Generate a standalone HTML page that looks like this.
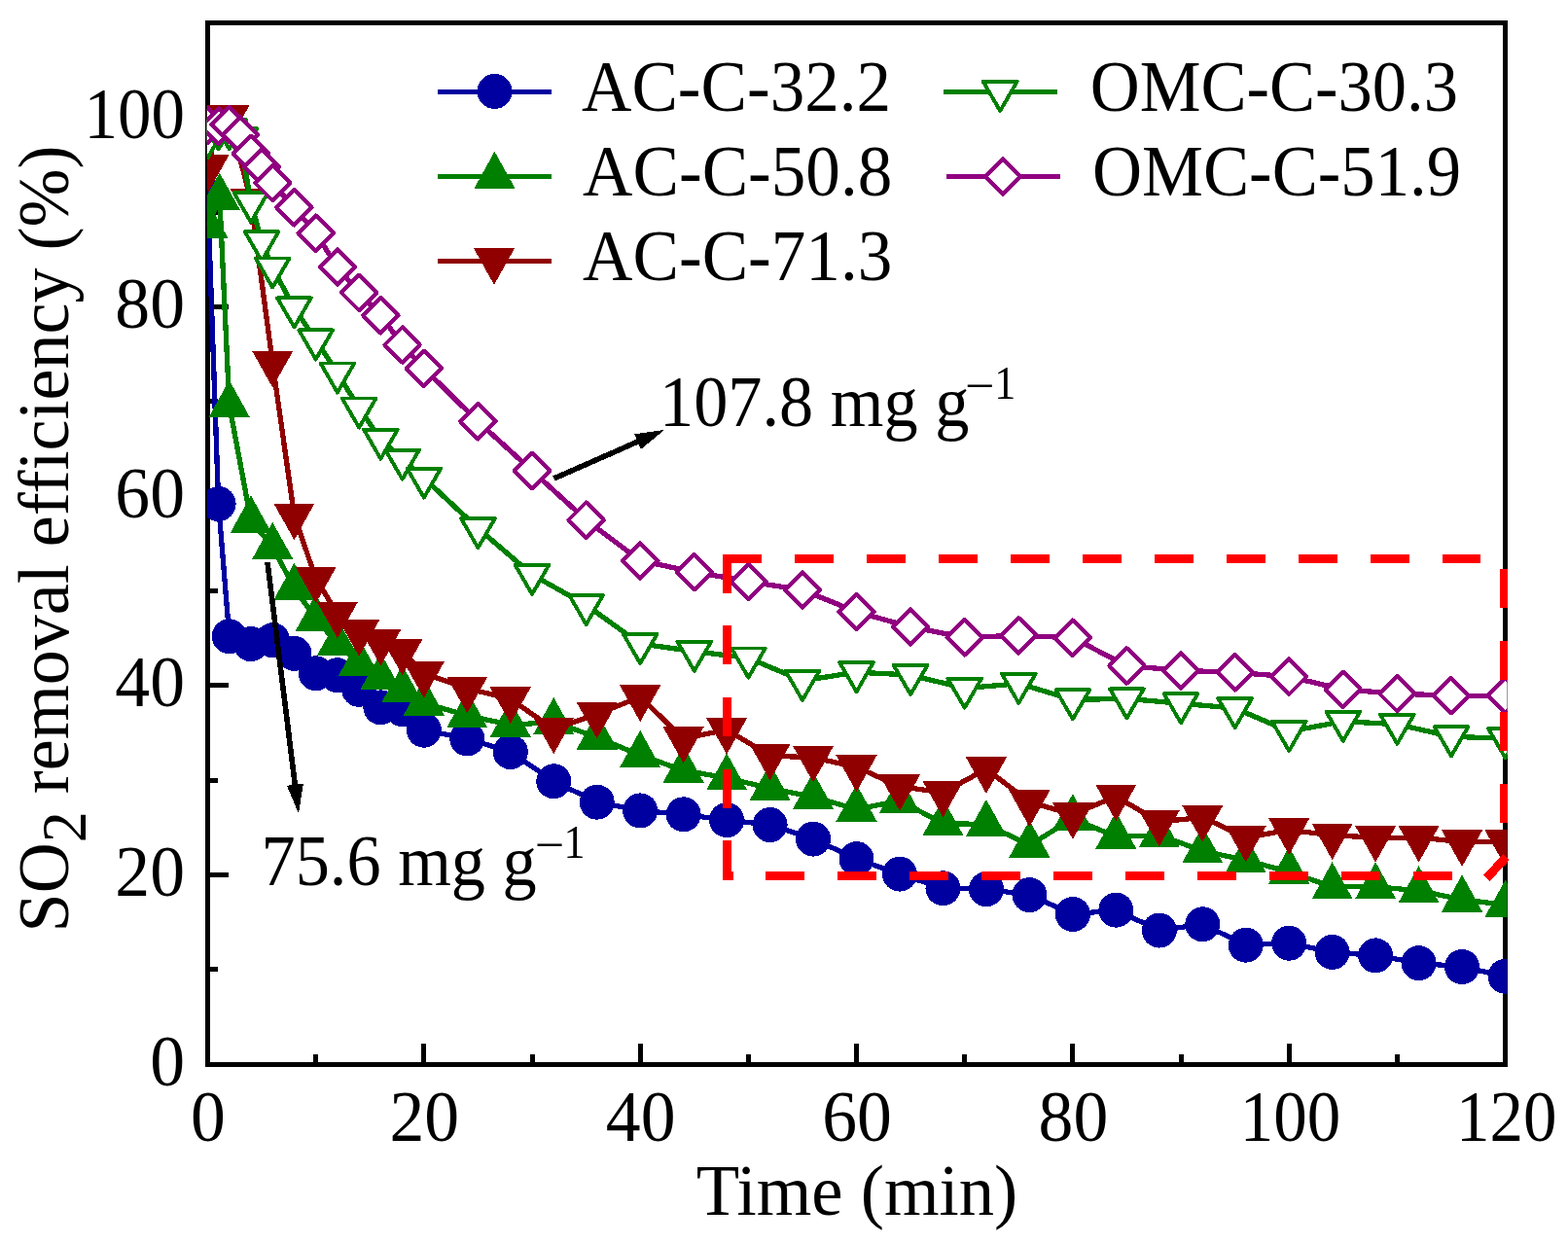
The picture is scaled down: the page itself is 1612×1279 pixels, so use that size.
<!DOCTYPE html>
<html><head><meta charset="utf-8"><title>SO2 removal efficiency</title>
<style>html,body{margin:0;padding:0;background:#fff;overflow:hidden}svg{display:block}text{font-family:"Liberation Serif",serif;fill:#000}</style></head>
<body>
<svg width="1612" height="1279" viewBox="0 0 1612 1279" shape-rendering="crispEdges">
<rect width="1612" height="1279" fill="#fff"/>
<defs><clipPath id="cp"><rect x="212.8" y="21" width="1336.8" height="1075.6"/></clipPath></defs>
<rect x="213.5" y="23.6" width="1334.0" height="1070.7" fill="none" stroke="#000" stroke-width="5"/>
<g stroke="#000" stroke-width="5"><line x1="324.67" y1="1094.3" x2="324.67" y2="1083.8"/><line x1="435.84" y1="1094.3" x2="435.84" y2="1073.3"/><line x1="547.01" y1="1094.3" x2="547.01" y2="1083.8"/><line x1="658.18" y1="1094.3" x2="658.18" y2="1073.3"/><line x1="769.35" y1="1094.3" x2="769.35" y2="1083.8"/><line x1="880.52" y1="1094.3" x2="880.52" y2="1073.3"/><line x1="991.69" y1="1094.3" x2="991.69" y2="1083.8"/><line x1="1102.86" y1="1094.3" x2="1102.86" y2="1073.3"/><line x1="1214.03" y1="1094.3" x2="1214.03" y2="1083.8"/><line x1="1325.20" y1="1094.3" x2="1325.20" y2="1073.3"/><line x1="1436.37" y1="1094.3" x2="1436.37" y2="1083.8"/><line x1="213.5" y1="996.96" x2="224.0" y2="996.96"/><line x1="213.5" y1="899.62" x2="234.5" y2="899.62"/><line x1="213.5" y1="802.28" x2="224.0" y2="802.28"/><line x1="213.5" y1="704.94" x2="234.5" y2="704.94"/><line x1="213.5" y1="607.60" x2="224.0" y2="607.60"/><line x1="213.5" y1="510.26" x2="234.5" y2="510.26"/><line x1="213.5" y1="412.92" x2="224.0" y2="412.92"/><line x1="213.5" y1="315.58" x2="234.5" y2="315.58"/><line x1="213.5" y1="218.24" x2="224.0" y2="218.24"/><line x1="213.5" y1="120.90" x2="234.5" y2="120.90"/></g>
<text transform="translate(214.0,1172.5) scale(0.966,1)" font-size="74.2" text-anchor="middle">0</text>
<text transform="translate(436.3,1172.5) scale(0.966,1)" font-size="74.2" text-anchor="middle">20</text>
<text transform="translate(658.7,1172.5) scale(0.966,1)" font-size="74.2" text-anchor="middle">40</text>
<text transform="translate(881.0,1172.5) scale(0.966,1)" font-size="74.2" text-anchor="middle">60</text>
<text transform="translate(1103.4,1172.5) scale(0.966,1)" font-size="74.2" text-anchor="middle">80</text>
<text transform="translate(1326.4,1172.5) scale(0.93,1)" font-size="74.2" text-anchor="middle">100</text>
<text transform="translate(1548.7,1172.5) scale(0.93,1)" font-size="74.2" text-anchor="middle">120</text>
<text transform="translate(190,1115.8) scale(0.966,1)" font-size="74.2" text-anchor="end">0</text>
<text transform="translate(190,921.1) scale(0.966,1)" font-size="74.2" text-anchor="end">20</text>
<text transform="translate(190,726.4) scale(0.966,1)" font-size="74.2" text-anchor="end">40</text>
<text transform="translate(190,531.8) scale(0.966,1)" font-size="74.2" text-anchor="end">60</text>
<text transform="translate(190,337.1) scale(0.966,1)" font-size="74.2" text-anchor="end">80</text>
<text transform="translate(190,142.4) scale(0.93,1)" font-size="74.2" text-anchor="end">100</text>
<text transform="translate(881,1249.2) scale(0.98,1)" font-size="74.2" text-anchor="middle">Time (min)</text>
<text transform="translate(69.8,554) rotate(-90) scale(0.971,1)" font-size="74.2" text-anchor="middle">SO<tspan font-size="66" dy="18">2</tspan><tspan dy="-18"> removal efficiency (%)</tspan></text>
<g clip-path="url(#cp)" shape-rendering="crispEdges">
<polyline points="213.50,200.72 224.62,518.05 235.73,654.32 257.97,662.11 280.20,658.22 302.44,671.84 324.67,692.29 346.90,694.23 369.14,708.83 391.37,727.33 413.61,729.27 435.84,750.69 480.31,759.45 524.78,773.08 569.24,803.25 613.71,824.67 658.18,833.43 702.65,837.32 747.12,843.16 791.58,848.03 836.05,862.63 880.52,883.07 924.99,898.65 969.46,913.25 1013.92,914.22 1058.39,920.06 1102.86,940.02 1147.33,935.64 1191.80,956.56 1236.26,950.24 1280.73,971.65 1325.20,969.70 1369.67,978.95 1414.14,982.36 1458.60,990.15 1503.07,994.04 1547.54,1003.77" fill="none" stroke="#0000a0" stroke-width="5.3" stroke-linejoin="round"/>
<circle cx="213.50" cy="200.72" r="18" fill="#0000a0"/>
<circle cx="224.62" cy="518.05" r="18" fill="#0000a0"/>
<circle cx="235.73" cy="654.32" r="18" fill="#0000a0"/>
<circle cx="257.97" cy="662.11" r="18" fill="#0000a0"/>
<circle cx="280.20" cy="658.22" r="18" fill="#0000a0"/>
<circle cx="302.44" cy="671.84" r="18" fill="#0000a0"/>
<circle cx="324.67" cy="692.29" r="18" fill="#0000a0"/>
<circle cx="346.90" cy="694.23" r="18" fill="#0000a0"/>
<circle cx="369.14" cy="708.83" r="18" fill="#0000a0"/>
<circle cx="391.37" cy="727.33" r="18" fill="#0000a0"/>
<circle cx="413.61" cy="729.27" r="18" fill="#0000a0"/>
<circle cx="435.84" cy="750.69" r="18" fill="#0000a0"/>
<circle cx="480.31" cy="759.45" r="18" fill="#0000a0"/>
<circle cx="524.78" cy="773.08" r="18" fill="#0000a0"/>
<circle cx="569.24" cy="803.25" r="18" fill="#0000a0"/>
<circle cx="613.71" cy="824.67" r="18" fill="#0000a0"/>
<circle cx="658.18" cy="833.43" r="18" fill="#0000a0"/>
<circle cx="702.65" cy="837.32" r="18" fill="#0000a0"/>
<circle cx="747.12" cy="843.16" r="18" fill="#0000a0"/>
<circle cx="791.58" cy="848.03" r="18" fill="#0000a0"/>
<circle cx="836.05" cy="862.63" r="18" fill="#0000a0"/>
<circle cx="880.52" cy="883.07" r="18" fill="#0000a0"/>
<circle cx="924.99" cy="898.65" r="18" fill="#0000a0"/>
<circle cx="969.46" cy="913.25" r="18" fill="#0000a0"/>
<circle cx="1013.92" cy="914.22" r="18" fill="#0000a0"/>
<circle cx="1058.39" cy="920.06" r="18" fill="#0000a0"/>
<circle cx="1102.86" cy="940.02" r="18" fill="#0000a0"/>
<circle cx="1147.33" cy="935.64" r="18" fill="#0000a0"/>
<circle cx="1191.80" cy="956.56" r="18" fill="#0000a0"/>
<circle cx="1236.26" cy="950.24" r="18" fill="#0000a0"/>
<circle cx="1280.73" cy="971.65" r="18" fill="#0000a0"/>
<circle cx="1325.20" cy="969.70" r="18" fill="#0000a0"/>
<circle cx="1369.67" cy="978.95" r="18" fill="#0000a0"/>
<circle cx="1414.14" cy="982.36" r="18" fill="#0000a0"/>
<circle cx="1458.60" cy="990.15" r="18" fill="#0000a0"/>
<circle cx="1503.07" cy="994.04" r="18" fill="#0000a0"/>
<circle cx="1547.54" cy="1003.77" r="18" fill="#0000a0"/>
<polyline points="213.50,232.35 225.73,203.15 235.73,416.33 257.97,535.08 280.20,562.34 302.44,604.19 324.67,636.32 346.90,661.62 369.14,682.07 391.37,696.67 413.61,709.32 435.84,722.95 480.31,735.60 524.78,745.34 569.24,742.42 613.71,757.99 658.18,776.48 702.65,792.06 747.12,799.85 791.58,810.55 836.05,819.31 880.52,831.97 924.99,823.21 969.46,846.57 1013.92,847.54 1058.39,868.96 1102.86,841.70 1147.33,860.20 1191.80,858.74 1236.26,874.80 1280.73,884.53 1325.20,896.21 1369.67,911.79 1414.14,911.79 1458.60,915.68 1503.07,924.93 1547.54,930.28" fill="none" stroke="#008000" stroke-width="5.3" stroke-linejoin="round"/>
<polygon points="213.50,206.75 234.60,244.95 192.40,244.95" fill="#008000"/>
<polygon points="225.73,177.55 246.83,215.75 204.63,215.75" fill="#008000"/>
<polygon points="235.73,390.73 256.83,428.93 214.63,428.93" fill="#008000"/>
<polygon points="257.97,509.48 279.07,547.68 236.87,547.68" fill="#008000"/>
<polygon points="280.20,536.74 301.30,574.94 259.10,574.94" fill="#008000"/>
<polygon points="302.44,578.59 323.54,616.79 281.34,616.79" fill="#008000"/>
<polygon points="324.67,610.72 345.77,648.92 303.57,648.92" fill="#008000"/>
<polygon points="346.90,636.02 368.00,674.22 325.80,674.22" fill="#008000"/>
<polygon points="369.14,656.47 390.24,694.67 348.04,694.67" fill="#008000"/>
<polygon points="391.37,671.07 412.47,709.27 370.27,709.27" fill="#008000"/>
<polygon points="413.61,683.72 434.71,721.92 392.51,721.92" fill="#008000"/>
<polygon points="435.84,697.35 456.94,735.55 414.74,735.55" fill="#008000"/>
<polygon points="480.31,710.00 501.41,748.20 459.21,748.20" fill="#008000"/>
<polygon points="524.78,719.74 545.88,757.94 503.68,757.94" fill="#008000"/>
<polygon points="569.24,716.82 590.34,755.02 548.14,755.02" fill="#008000"/>
<polygon points="613.71,732.39 634.81,770.59 592.61,770.59" fill="#008000"/>
<polygon points="658.18,750.88 679.28,789.08 637.08,789.08" fill="#008000"/>
<polygon points="702.65,766.46 723.75,804.66 681.55,804.66" fill="#008000"/>
<polygon points="747.12,774.25 768.22,812.45 726.02,812.45" fill="#008000"/>
<polygon points="791.58,784.95 812.68,823.15 770.48,823.15" fill="#008000"/>
<polygon points="836.05,793.71 857.15,831.91 814.95,831.91" fill="#008000"/>
<polygon points="880.52,806.37 901.62,844.57 859.42,844.57" fill="#008000"/>
<polygon points="924.99,797.61 946.09,835.81 903.89,835.81" fill="#008000"/>
<polygon points="969.46,820.97 990.56,859.17 948.36,859.17" fill="#008000"/>
<polygon points="1013.92,821.94 1035.02,860.14 992.82,860.14" fill="#008000"/>
<polygon points="1058.39,843.36 1079.49,881.56 1037.29,881.56" fill="#008000"/>
<polygon points="1102.86,816.10 1123.96,854.30 1081.76,854.30" fill="#008000"/>
<polygon points="1147.33,834.60 1168.43,872.80 1126.23,872.80" fill="#008000"/>
<polygon points="1191.80,833.14 1212.90,871.34 1170.70,871.34" fill="#008000"/>
<polygon points="1236.26,849.20 1257.36,887.40 1215.16,887.40" fill="#008000"/>
<polygon points="1280.73,858.93 1301.83,897.13 1259.63,897.13" fill="#008000"/>
<polygon points="1325.20,870.61 1346.30,908.81 1304.10,908.81" fill="#008000"/>
<polygon points="1369.67,886.19 1390.77,924.39 1348.57,924.39" fill="#008000"/>
<polygon points="1414.14,886.19 1435.24,924.39 1393.04,924.39" fill="#008000"/>
<polygon points="1458.60,890.08 1479.70,928.28 1437.50,928.28" fill="#008000"/>
<polygon points="1503.07,899.33 1524.17,937.53 1481.97,937.53" fill="#008000"/>
<polygon points="1547.54,904.68 1568.64,942.88 1526.44,942.88" fill="#008000"/>
<polyline points="214.39,171.52 224.62,119.93 235.73,119.93 257.97,206.56 280.20,373.01 302.44,529.73 324.67,594.95 346.90,630.96 369.14,649.46 391.37,659.19 413.61,668.92 435.84,692.29 480.31,707.86 524.78,718.57 569.24,749.72 613.71,734.14 658.18,716.62 702.65,759.45 747.12,750.20 791.58,776.97 836.05,778.92 880.52,788.65 924.99,808.61 969.46,814.93 1013.92,790.60 1058.39,824.67 1102.86,837.32 1147.33,818.83 1191.80,845.11 1236.26,840.24 1280.73,861.17 1325.20,853.38 1369.67,858.74 1414.14,861.17 1458.60,861.17 1503.07,865.55 1547.54,865.55" fill="none" stroke="#900000" stroke-width="5.3" stroke-linejoin="round"/>
<polygon points="214.39,197.02 235.49,159.32 193.29,159.32" fill="#900000"/>
<polygon points="224.62,145.43 245.72,107.73 203.52,107.73" fill="#900000"/>
<polygon points="235.73,145.43 256.83,107.73 214.63,107.73" fill="#900000"/>
<polygon points="257.97,232.06 279.07,194.36 236.87,194.36" fill="#900000"/>
<polygon points="280.20,398.51 301.30,360.81 259.10,360.81" fill="#900000"/>
<polygon points="302.44,555.23 323.54,517.53 281.34,517.53" fill="#900000"/>
<polygon points="324.67,620.45 345.77,582.75 303.57,582.75" fill="#900000"/>
<polygon points="346.90,656.46 368.00,618.76 325.80,618.76" fill="#900000"/>
<polygon points="369.14,674.96 390.24,637.26 348.04,637.26" fill="#900000"/>
<polygon points="391.37,684.69 412.47,646.99 370.27,646.99" fill="#900000"/>
<polygon points="413.61,694.42 434.71,656.72 392.51,656.72" fill="#900000"/>
<polygon points="435.84,717.79 456.94,680.09 414.74,680.09" fill="#900000"/>
<polygon points="480.31,733.36 501.41,695.66 459.21,695.66" fill="#900000"/>
<polygon points="524.78,744.07 545.88,706.37 503.68,706.37" fill="#900000"/>
<polygon points="569.24,775.22 590.34,737.52 548.14,737.52" fill="#900000"/>
<polygon points="613.71,759.64 634.81,721.94 592.61,721.94" fill="#900000"/>
<polygon points="658.18,742.12 679.28,704.42 637.08,704.42" fill="#900000"/>
<polygon points="702.65,784.95 723.75,747.25 681.55,747.25" fill="#900000"/>
<polygon points="747.12,775.70 768.22,738.00 726.02,738.00" fill="#900000"/>
<polygon points="791.58,802.47 812.68,764.77 770.48,764.77" fill="#900000"/>
<polygon points="836.05,804.42 857.15,766.72 814.95,766.72" fill="#900000"/>
<polygon points="880.52,814.15 901.62,776.45 859.42,776.45" fill="#900000"/>
<polygon points="924.99,834.11 946.09,796.41 903.89,796.41" fill="#900000"/>
<polygon points="969.46,840.43 990.56,802.73 948.36,802.73" fill="#900000"/>
<polygon points="1013.92,816.10 1035.02,778.40 992.82,778.40" fill="#900000"/>
<polygon points="1058.39,850.17 1079.49,812.47 1037.29,812.47" fill="#900000"/>
<polygon points="1102.86,862.82 1123.96,825.12 1081.76,825.12" fill="#900000"/>
<polygon points="1147.33,844.33 1168.43,806.63 1126.23,806.63" fill="#900000"/>
<polygon points="1191.80,870.61 1212.90,832.91 1170.70,832.91" fill="#900000"/>
<polygon points="1236.26,865.74 1257.36,828.04 1215.16,828.04" fill="#900000"/>
<polygon points="1280.73,886.67 1301.83,848.97 1259.63,848.97" fill="#900000"/>
<polygon points="1325.20,878.88 1346.30,841.18 1304.10,841.18" fill="#900000"/>
<polygon points="1369.67,884.24 1390.77,846.54 1348.57,846.54" fill="#900000"/>
<polygon points="1414.14,886.67 1435.24,848.97 1393.04,848.97" fill="#900000"/>
<polygon points="1458.60,886.67 1479.70,848.97 1437.50,848.97" fill="#900000"/>
<polygon points="1503.07,891.05 1524.17,853.35 1481.97,853.35" fill="#900000"/>
<polygon points="1547.54,891.05 1568.64,853.35 1526.44,853.35" fill="#900000"/>
<polyline points="213.50,142.12 224.62,133.36 235.73,133.16 246.85,142.12 257.97,208.31 269.09,248.22 280.20,275.48 302.44,316.36 324.67,349.45 346.90,383.52 369.14,419.54 391.37,451.66 413.61,472.59 435.84,491.57 491.43,543.16 547.01,590.86 602.60,622.01 658.18,661.92 713.77,669.70 769.35,676.52 824.94,699.88 880.52,691.12 936.11,694.04 991.69,707.67 1047.28,702.80 1102.86,719.35 1158.45,718.37 1214.03,723.24 1269.62,728.11 1325.20,751.96 1380.79,741.73 1436.37,744.65 1491.96,757.31 1547.54,759.26" fill="none" stroke="#008000" stroke-width="5.3" stroke-linejoin="round"/>
<polygon points="213.50,162.17 230.86,132.10 196.14,132.10" fill="#fff" stroke="#008000" stroke-width="3.9" stroke-linejoin="round"/>
<polygon points="224.62,153.41 241.98,123.33 207.25,123.33" fill="#fff" stroke="#008000" stroke-width="3.9" stroke-linejoin="round"/>
<polygon points="235.73,153.21 253.10,123.14 218.37,123.14" fill="#fff" stroke="#008000" stroke-width="3.9" stroke-linejoin="round"/>
<polygon points="246.85,162.17 264.21,132.10 229.49,132.10" fill="#fff" stroke="#008000" stroke-width="3.9" stroke-linejoin="round"/>
<polygon points="257.97,228.36 275.33,198.29 240.60,198.29" fill="#fff" stroke="#008000" stroke-width="3.9" stroke-linejoin="round"/>
<polygon points="269.09,268.27 286.45,238.20 251.72,238.20" fill="#fff" stroke="#008000" stroke-width="3.9" stroke-linejoin="round"/>
<polygon points="280.20,295.53 297.57,265.45 262.84,265.45" fill="#fff" stroke="#008000" stroke-width="3.9" stroke-linejoin="round"/>
<polygon points="302.44,336.41 319.80,306.33 285.07,306.33" fill="#fff" stroke="#008000" stroke-width="3.9" stroke-linejoin="round"/>
<polygon points="324.67,369.50 342.03,339.43 307.31,339.43" fill="#fff" stroke="#008000" stroke-width="3.9" stroke-linejoin="round"/>
<polygon points="346.90,403.57 364.27,373.50 329.54,373.50" fill="#fff" stroke="#008000" stroke-width="3.9" stroke-linejoin="round"/>
<polygon points="369.14,439.59 386.50,409.51 351.77,409.51" fill="#fff" stroke="#008000" stroke-width="3.9" stroke-linejoin="round"/>
<polygon points="391.37,471.71 408.74,441.64 374.01,441.64" fill="#fff" stroke="#008000" stroke-width="3.9" stroke-linejoin="round"/>
<polygon points="413.61,492.64 430.97,462.56 396.24,462.56" fill="#fff" stroke="#008000" stroke-width="3.9" stroke-linejoin="round"/>
<polygon points="435.84,511.62 453.20,481.55 418.48,481.55" fill="#fff" stroke="#008000" stroke-width="3.9" stroke-linejoin="round"/>
<polygon points="491.43,563.21 508.79,533.14 474.06,533.14" fill="#fff" stroke="#008000" stroke-width="3.9" stroke-linejoin="round"/>
<polygon points="547.01,610.91 564.37,580.83 529.65,580.83" fill="#fff" stroke="#008000" stroke-width="3.9" stroke-linejoin="round"/>
<polygon points="602.60,642.06 619.96,611.98 585.23,611.98" fill="#fff" stroke="#008000" stroke-width="3.9" stroke-linejoin="round"/>
<polygon points="658.18,681.97 675.54,651.89 640.82,651.89" fill="#fff" stroke="#008000" stroke-width="3.9" stroke-linejoin="round"/>
<polygon points="713.77,689.75 731.13,659.68 696.40,659.68" fill="#fff" stroke="#008000" stroke-width="3.9" stroke-linejoin="round"/>
<polygon points="769.35,696.57 786.71,666.49 751.99,666.49" fill="#fff" stroke="#008000" stroke-width="3.9" stroke-linejoin="round"/>
<polygon points="824.94,719.93 842.30,689.85 807.57,689.85" fill="#fff" stroke="#008000" stroke-width="3.9" stroke-linejoin="round"/>
<polygon points="880.52,711.17 897.88,681.09 863.16,681.09" fill="#fff" stroke="#008000" stroke-width="3.9" stroke-linejoin="round"/>
<polygon points="936.11,714.09 953.47,684.01 918.74,684.01" fill="#fff" stroke="#008000" stroke-width="3.9" stroke-linejoin="round"/>
<polygon points="991.69,727.72 1009.05,697.64 974.33,697.64" fill="#fff" stroke="#008000" stroke-width="3.9" stroke-linejoin="round"/>
<polygon points="1047.28,722.85 1064.64,692.77 1029.91,692.77" fill="#fff" stroke="#008000" stroke-width="3.9" stroke-linejoin="round"/>
<polygon points="1102.86,739.40 1120.22,709.32 1085.50,709.32" fill="#fff" stroke="#008000" stroke-width="3.9" stroke-linejoin="round"/>
<polygon points="1158.45,738.42 1175.81,708.35 1141.08,708.35" fill="#fff" stroke="#008000" stroke-width="3.9" stroke-linejoin="round"/>
<polygon points="1214.03,743.29 1231.39,713.21 1196.67,713.21" fill="#fff" stroke="#008000" stroke-width="3.9" stroke-linejoin="round"/>
<polygon points="1269.62,748.16 1286.98,718.08 1252.25,718.08" fill="#fff" stroke="#008000" stroke-width="3.9" stroke-linejoin="round"/>
<polygon points="1325.20,772.01 1342.56,741.93 1307.84,741.93" fill="#fff" stroke="#008000" stroke-width="3.9" stroke-linejoin="round"/>
<polygon points="1380.79,761.78 1398.15,731.71 1363.42,731.71" fill="#fff" stroke="#008000" stroke-width="3.9" stroke-linejoin="round"/>
<polygon points="1436.37,764.70 1453.73,734.63 1419.01,734.63" fill="#fff" stroke="#008000" stroke-width="3.9" stroke-linejoin="round"/>
<polygon points="1491.96,777.36 1509.32,747.28 1474.59,747.28" fill="#fff" stroke="#008000" stroke-width="3.9" stroke-linejoin="round"/>
<polygon points="1547.54,779.31 1564.90,749.23 1530.18,749.23" fill="#fff" stroke="#008000" stroke-width="3.9" stroke-linejoin="round"/>
<polyline points="213.50,128.69 224.62,129.66 235.73,128.01 246.85,138.42 257.97,157.89 269.09,171.52 280.20,188.06 302.44,213.37 324.67,239.65 346.90,274.70 369.14,300.98 391.37,324.34 413.61,354.52 435.84,378.85 491.43,433.36 547.01,483.98 602.60,534.59 658.18,576.45 713.77,588.13 769.35,597.87 824.94,606.63 880.52,629.01 936.11,644.59 991.69,655.30 1047.28,653.35 1102.86,655.78 1158.45,684.50 1214.03,689.37 1269.62,691.31 1325.20,695.69 1380.79,708.83 1436.37,713.21 1491.96,715.16 1547.54,715.16" fill="none" stroke="#900080" stroke-width="5.3" stroke-linejoin="round"/>
<polygon points="213.50,110.54 231.65,128.69 213.50,146.84 195.35,128.69" fill="#fff" stroke="#900080" stroke-width="4.2" stroke-linejoin="round"/>
<polygon points="224.62,111.51 242.77,129.66 224.62,147.81 206.47,129.66" fill="#fff" stroke="#900080" stroke-width="4.2" stroke-linejoin="round"/>
<polygon points="235.73,109.86 253.88,128.01 235.73,146.16 217.58,128.01" fill="#fff" stroke="#900080" stroke-width="4.2" stroke-linejoin="round"/>
<polygon points="246.85,120.27 265.00,138.42 246.85,156.57 228.70,138.42" fill="#fff" stroke="#900080" stroke-width="4.2" stroke-linejoin="round"/>
<polygon points="257.97,139.74 276.12,157.89 257.97,176.04 239.82,157.89" fill="#fff" stroke="#900080" stroke-width="4.2" stroke-linejoin="round"/>
<polygon points="269.09,153.37 287.24,171.52 269.09,189.67 250.94,171.52" fill="#fff" stroke="#900080" stroke-width="4.2" stroke-linejoin="round"/>
<polygon points="280.20,169.91 298.35,188.06 280.20,206.21 262.05,188.06" fill="#fff" stroke="#900080" stroke-width="4.2" stroke-linejoin="round"/>
<polygon points="302.44,195.22 320.59,213.37 302.44,231.52 284.29,213.37" fill="#fff" stroke="#900080" stroke-width="4.2" stroke-linejoin="round"/>
<polygon points="324.67,221.50 342.82,239.65 324.67,257.80 306.52,239.65" fill="#fff" stroke="#900080" stroke-width="4.2" stroke-linejoin="round"/>
<polygon points="346.90,256.55 365.05,274.70 346.90,292.85 328.75,274.70" fill="#fff" stroke="#900080" stroke-width="4.2" stroke-linejoin="round"/>
<polygon points="369.14,282.83 387.29,300.98 369.14,319.13 350.99,300.98" fill="#fff" stroke="#900080" stroke-width="4.2" stroke-linejoin="round"/>
<polygon points="391.37,306.19 409.52,324.34 391.37,342.49 373.22,324.34" fill="#fff" stroke="#900080" stroke-width="4.2" stroke-linejoin="round"/>
<polygon points="413.61,336.37 431.76,354.52 413.61,372.67 395.46,354.52" fill="#fff" stroke="#900080" stroke-width="4.2" stroke-linejoin="round"/>
<polygon points="435.84,360.70 453.99,378.85 435.84,397.00 417.69,378.85" fill="#fff" stroke="#900080" stroke-width="4.2" stroke-linejoin="round"/>
<polygon points="491.43,415.21 509.57,433.36 491.43,451.51 473.28,433.36" fill="#fff" stroke="#900080" stroke-width="4.2" stroke-linejoin="round"/>
<polygon points="547.01,465.83 565.16,483.98 547.01,502.13 528.86,483.98" fill="#fff" stroke="#900080" stroke-width="4.2" stroke-linejoin="round"/>
<polygon points="602.60,516.44 620.75,534.59 602.60,552.74 584.45,534.59" fill="#fff" stroke="#900080" stroke-width="4.2" stroke-linejoin="round"/>
<polygon points="658.18,558.30 676.33,576.45 658.18,594.60 640.03,576.45" fill="#fff" stroke="#900080" stroke-width="4.2" stroke-linejoin="round"/>
<polygon points="713.77,569.98 731.92,588.13 713.77,606.28 695.62,588.13" fill="#fff" stroke="#900080" stroke-width="4.2" stroke-linejoin="round"/>
<polygon points="769.35,579.72 787.50,597.87 769.35,616.02 751.20,597.87" fill="#fff" stroke="#900080" stroke-width="4.2" stroke-linejoin="round"/>
<polygon points="824.94,588.48 843.09,606.63 824.94,624.78 806.79,606.63" fill="#fff" stroke="#900080" stroke-width="4.2" stroke-linejoin="round"/>
<polygon points="880.52,610.86 898.67,629.01 880.52,647.16 862.37,629.01" fill="#fff" stroke="#900080" stroke-width="4.2" stroke-linejoin="round"/>
<polygon points="936.11,626.44 954.25,644.59 936.11,662.74 917.96,644.59" fill="#fff" stroke="#900080" stroke-width="4.2" stroke-linejoin="round"/>
<polygon points="991.69,637.15 1009.84,655.30 991.69,673.45 973.54,655.30" fill="#fff" stroke="#900080" stroke-width="4.2" stroke-linejoin="round"/>
<polygon points="1047.28,635.20 1065.43,653.35 1047.28,671.50 1029.12,653.35" fill="#fff" stroke="#900080" stroke-width="4.2" stroke-linejoin="round"/>
<polygon points="1102.86,637.63 1121.01,655.78 1102.86,673.93 1084.71,655.78" fill="#fff" stroke="#900080" stroke-width="4.2" stroke-linejoin="round"/>
<polygon points="1158.45,666.35 1176.60,684.50 1158.45,702.65 1140.30,684.50" fill="#fff" stroke="#900080" stroke-width="4.2" stroke-linejoin="round"/>
<polygon points="1214.03,671.22 1232.18,689.37 1214.03,707.52 1195.88,689.37" fill="#fff" stroke="#900080" stroke-width="4.2" stroke-linejoin="round"/>
<polygon points="1269.62,673.16 1287.77,691.31 1269.62,709.46 1251.46,691.31" fill="#fff" stroke="#900080" stroke-width="4.2" stroke-linejoin="round"/>
<polygon points="1325.20,677.54 1343.35,695.69 1325.20,713.84 1307.05,695.69" fill="#fff" stroke="#900080" stroke-width="4.2" stroke-linejoin="round"/>
<polygon points="1380.79,690.68 1398.94,708.83 1380.79,726.98 1362.63,708.83" fill="#fff" stroke="#900080" stroke-width="4.2" stroke-linejoin="round"/>
<polygon points="1436.37,695.06 1454.52,713.21 1436.37,731.36 1418.22,713.21" fill="#fff" stroke="#900080" stroke-width="4.2" stroke-linejoin="round"/>
<polygon points="1491.96,697.01 1510.11,715.16 1491.96,733.31 1473.81,715.16" fill="#fff" stroke="#900080" stroke-width="4.2" stroke-linejoin="round"/>
<polygon points="1547.54,697.01 1565.69,715.16 1547.54,733.31 1529.39,715.16" fill="#fff" stroke="#900080" stroke-width="4.2" stroke-linejoin="round"/>
</g>
<g fill="#ff0000"><rect x="743" y="570" width="40" height="9"/><rect x="817" y="570" width="40" height="9"/><rect x="891" y="570" width="40" height="9"/><rect x="965" y="570" width="40" height="9"/><rect x="1039" y="570" width="40" height="9"/><rect x="1113" y="570" width="40" height="9"/><rect x="1187" y="570" width="40" height="9"/><rect x="1261" y="570" width="40" height="9"/><rect x="1335" y="570" width="40" height="9"/><rect x="1409" y="570" width="40" height="9"/><rect x="1483" y="570" width="39" height="9"/><rect x="1542" y="585" width="7.6" height="40"/><rect x="1542" y="658.5" width="7.6" height="40"/><rect x="1542" y="732" width="7.6" height="40"/><rect x="1542" y="805.5" width="7.6" height="40"/><rect x="1453" y="896" width="40.3" height="9"/><rect x="1379" y="896" width="40.3" height="9"/><rect x="1305" y="896" width="40.3" height="9"/><rect x="1231" y="896" width="40.3" height="9"/><rect x="1157" y="896" width="40.3" height="9"/><rect x="1083" y="896" width="40.3" height="9"/><rect x="1009" y="896" width="40.3" height="9"/><rect x="935" y="896" width="40.3" height="9"/><rect x="861" y="896" width="40.3" height="9"/><rect x="787" y="896" width="40.3" height="9"/><rect x="742.9" y="570" width="8.9" height="40"/><rect x="742.9" y="643" width="8.9" height="40"/><rect x="742.9" y="717" width="8.9" height="40"/><rect x="742.9" y="791" width="8.9" height="40"/><rect x="742.9" y="863.8" width="8.9" height="41.2"/><rect x="742.9" y="896" width="10.6" height="9"/><line x1="1528.4" y1="903" x2="1548.4" y2="881" stroke="#ff0000" stroke-width="9"/></g>
<line x1="569.5" y1="492" x2="660.1" y2="452.1" stroke="#000" stroke-width="5.6"/><polygon points="683.0,442.0 659.0,461.9 652.1,446.3" fill="#000"/>
<line x1="275" y1="578" x2="303.9" y2="811.7" stroke="#000" stroke-width="5.6"/><polygon points="307.0,836.5 294.9,807.8 311.8,805.7" fill="#000"/>
<text transform="translate(678,437.8) scale(0.948,1)" font-size="74.2" text-anchor="start">107.8 mg g</text><text transform="translate(1007.4,412.7) scale(1.1,1)" font-size="49" text-anchor="middle">−</text><text transform="translate(1033.4,409.6) scale(0.9,1)" font-size="49" text-anchor="middle">1</text>
<text transform="translate(268.5,910) scale(0.948,1)" font-size="74.2" text-anchor="start">75.6 mg g</text><text transform="translate(565.1,884.5) scale(1.1,1)" font-size="49" text-anchor="middle">−</text><text transform="translate(590.5,881.7) scale(0.9,1)" font-size="49" text-anchor="middle">1</text>
<line x1="450" y1="94" x2="567" y2="94" stroke="#0000a0" stroke-width="5"/><circle cx="508.5" cy="94" r="18" fill="#0000a0"/><text transform="translate(598,113.7) scale(0.959,1)" font-size="74.2" text-anchor="start">AC-C-32.2</text>
<line x1="450" y1="181.3" x2="567" y2="181.3" stroke="#008000" stroke-width="5"/><polygon points="508.50,155.70 529.60,193.90 487.40,193.90" fill="#008000"/><text transform="translate(599.1,201.0) scale(0.959,1)" font-size="74.2" text-anchor="start">AC-C-50.8</text>
<line x1="450" y1="268.5" x2="567" y2="268.5" stroke="#900000" stroke-width="5"/><polygon points="508.00,292.90 529.10,255.20 486.90,255.20" fill="#900000"/><text transform="translate(599.1,288.2) scale(0.959,1)" font-size="74.2" text-anchor="start">AC-C-71.3</text>
<line x1="969.7" y1="94" x2="1086.7" y2="94" stroke="#008000" stroke-width="5"/><polygon points="1028.20,114.05 1045.56,83.97 1010.84,83.97" fill="#fff" stroke="#008000" stroke-width="3.9" stroke-linejoin="round"/><text transform="translate(1120.7,113.7) scale(0.951,1)" font-size="74.2" text-anchor="start">OMC-C-30.3</text>
<line x1="972.6" y1="181.3" x2="1089.6" y2="181.3" stroke="#900080" stroke-width="5"/><polygon points="1031.10,163.15 1049.25,181.30 1031.10,199.45 1012.95,181.30" fill="#fff" stroke="#900080" stroke-width="4.2" stroke-linejoin="round"/><text transform="translate(1123,201.0) scale(0.953,1)" font-size="74.2" text-anchor="start">OMC-C-51.9</text>
</svg>
</body></html>
